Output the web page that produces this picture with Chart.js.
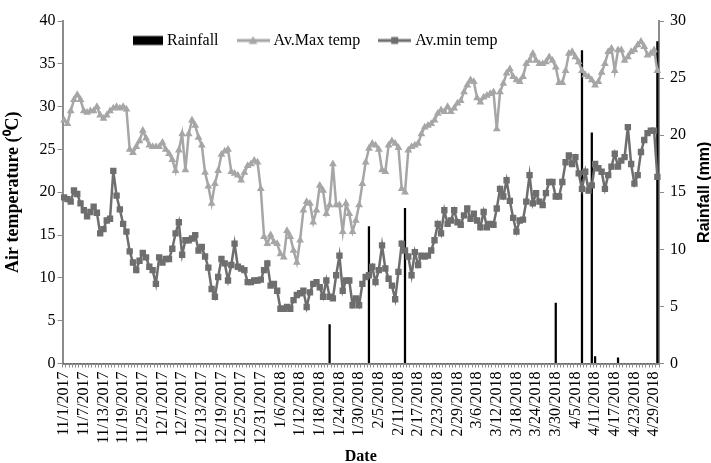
<!DOCTYPE html>
<html>
<head>
<meta charset="utf-8">
<script src="https://cdn.jsdelivr.net/npm/chart.js@4"></script>
<style>
  body { margin: 0; background: #fff; }
</style>
</head>
<body>
<canvas id="weatherChart" width="711" height="463"></canvas>
<script>
'use strict'

// Months on the record: [month, year, days] (the source sheet gives February 29 days)
var months = [[11, 2017, 30], [12, 2017, 31], [1, 2018, 31], [2, 2018, 29], [3, 2018, 31], [4, 2018, 30]];

// Daily average maximum temperature (C), one line per month
var maxTemp = [
  28.4, 28.0, 29.5, 30.8, 31.4, 30.8, 29.5, 29.3, 29.5, 29.5, 30.0, 29.0, 28.6, 29.0, 29.5, 29.8, 30.0, 29.8, 30.0, 29.7, 25.0, 24.6, 25.3, 26.0, 27.2, 26.3, 25.5, 25.3, 25.3, 25.3,
  25.8, 25.0, 24.5, 23.8, 22.5, 24.9, 26.8, 22.6, 26.8, 28.4, 27.8, 26.4, 25.5, 22.3, 20.7, 18.7, 21.0, 22.5, 24.4, 24.8, 25.0, 22.4, 22.2, 22.0, 21.4, 22.3, 23.1, 23.3, 23.7, 23.5, 20.4,
  14.8, 14.0, 15.0, 14.2, 14.0, 12.8, 12.4, 15.5, 14.8, 13.2, 11.8, 14.4, 17.9, 18.9, 18.7, 16.5, 17.9, 20.8, 20.2, 17.5, 18.5, 23.3, 18.5, 18.5, 15.4, 18.7, 17.5, 15.4, 16.7, 18.5, 21.0,
  23.5, 25.1, 25.7, 25.5, 25.0, 22.6, 22.4, 25.5, 26.0, 25.7, 25.2, 20.4, 20.0, 24.9, 25.3, 25.5, 25.7, 26.8, 27.6, 27.8, 28.0, 28.4, 29.2, 29.6, 29.4, 30.0, 29.4, 29.8, 30.4,
  30.7, 31.7, 32.5, 33.1, 32.9, 31.0, 30.5, 31.1, 31.3, 31.5, 31.7, 27.4, 31.7, 32.7, 33.9, 34.4, 33.5, 33.1, 32.9, 33.5, 35.0, 35.4, 36.2, 35.4, 35.0, 35.0, 35.2, 35.8, 35.4, 34.6, 32.8,
  32.8, 34.2, 36.2, 36.4, 35.8, 35.2, 34.2, 33.7, 33.5, 33.1, 32.5, 32.9, 34.0, 35.0, 36.4, 36.8, 34.2, 36.6, 36.6, 35.4, 35.8, 36.4, 36.6, 37.2, 37.6, 37.0, 36.0, 36.2, 36.6, 34.2
];

// Daily average minimum temperature (C)
var minTemp = [
  19.4, 19.2, 18.9, 20.2, 19.8, 18.7, 17.9, 17.2, 17.7, 18.3, 17.6, 15.2, 15.7, 16.7, 16.9, 22.5, 19.6, 18.0, 16.3, 15.4, 13.1, 11.8, 10.9, 12.0, 12.9, 12.4, 11.3, 10.9, 9.3, 12.4,
  11.8, 12.2, 12.2, 13.4, 15.2, 16.5, 12.7, 14.4, 14.4, 14.6, 15.0, 13.2, 13.6, 12.5, 11.2, 8.7, 7.8, 10.1, 12.2, 11.7, 9.7, 11.5, 14.0, 11.3, 11.1, 10.9, 9.5, 9.5, 9.7, 9.7, 9.8,
  10.9, 11.7, 9.1, 9.3, 8.5, 6.4, 6.4, 6.6, 6.4, 7.4, 8.0, 8.2, 8.5, 6.6, 8.3, 9.3, 9.5, 8.9, 7.8, 9.7, 7.8, 7.6, 10.3, 12.6, 8.5, 9.7, 9.7, 6.8, 7.6, 6.8, 9.3,
  10.1, 10.3, 11.3, 9.5, 10.9, 13.8, 11.1, 9.9, 9.1, 7.5, 10.7, 14.0, 13.2, 12.5, 10.3, 13.0, 11.5, 12.6, 12.5, 12.6, 13.2, 14.4, 16.3, 15.2, 17.9, 16.3, 16.7, 17.9, 16.5,
  16.2, 17.3, 18.1, 16.9, 17.5, 16.7, 15.9, 17.7, 15.9, 16.3, 16.2, 18.1, 20.4, 19.5, 21.4, 19.0, 17.0, 15.4, 16.7, 16.8, 18.9, 22.0, 18.7, 19.9, 18.9, 18.5, 19.9, 21.2, 21.2, 19.5, 19.5,
  21.2, 23.5, 24.3, 23.3, 24.1, 22.2, 20.4, 22.4, 20.2, 20.8, 23.3, 22.8, 22.4, 20.4, 22.0, 23.0, 24.5, 23.0, 23.7, 24.1, 27.6, 23.3, 21.0, 22.0, 24.7, 26.1, 26.9, 27.2, 27.2, 21.8
];

// Daily rainfall (mm)
var rainfall = [
  0, 0, 0, 0, 0, 0, 0, 0, 0, 0, 0, 0, 0, 0, 0, 0, 0, 0, 0, 0, 0, 0, 0, 0, 0, 0, 0, 0, 0, 0,
  0, 0, 0, 0, 0, 0, 0, 0, 0, 0, 0, 0, 0, 0, 0, 0, 0, 0, 0, 0, 0, 0, 0, 0, 0, 0, 0, 0, 0, 0, 0,
  0, 0, 0, 0, 0, 0, 0, 0, 0, 0, 0, 0, 0, 0, 0, 0, 0, 0, 0, 0, 3.4, 0, 0, 0, 0, 0, 0, 0, 0, 0, 0,
  0, 12.0, 0, 0, 0, 0, 0, 0, 0, 0, 0, 0, 13.6, 0, 0, 0, 0, 0, 0, 0, 0, 0, 0, 0, 0, 0, 0, 0, 0,
  0, 0, 0, 0, 0, 0, 0, 0, 0, 0, 0, 0, 0, 0, 0, 0, 0, 0, 0, 0, 0, 0, 0, 0, 0, 0, 0, 0, 0, 5.3, 0,
  0, 0, 0, 0, 0, 0, 27.4, 0, 0, 20.2, 0.6, 0, 0, 0, 0, 0, 0, 0.5, 0, 0, 0, 0, 0, 0, 0, 0, 0, 0, 0, 28.2
];

// Build the day labels from the month table
var dates = [];
months.forEach(function(m) {
  for (var d = 1; d <= m[2]; d++) {
    dates.push(m[0] + '/' + d + '/' + m[1]);
  }
});

var maxColor = '#a6a6a6';
var minColor = '#6e6e6e';
var axisColor = '#8c8c8c';
var serif = 'Liberation Serif';

// Small canvases used as legend symbols (bar box, line with marker)
function legendIcon(kind, color) {
  var c = document.createElement('canvas');
  c.width = kind === 'bar' ? 30 : 33;
  c.height = 12;
  var g = c.getContext('2d');
  g.fillStyle = color;
  g.strokeStyle = color;
  if (kind === 'bar') {
    g.fillRect(0, 1.5, 30, 9);
    return c;
  }
  g.lineWidth = 3;
  g.beginPath();
  g.moveTo(0, 6);
  g.lineTo(33, 6);
  g.stroke();
  if (kind === 'triangle') {
    g.beginPath();
    g.moveTo(16.5, 1.5);
    g.lineTo(20.8, 9.5);
    g.lineTo(12.2, 9.5);
    g.closePath();
    g.fill();
  } else {
    g.fillRect(13, 2.5, 7, 7);
  }
  return c;
}

var icons = [legendIcon('bar', '#000'), legendIcon('triangle', maxColor), legendIcon('rect', minColor)];

// Legend row inside the plot (as in the original) and right title read bottom-to-top
var chartTweaks = {
  id: 'chartTweaks',
  afterDraw: function(chart) {
    var ctx = chart.ctx;
    ctx.save();
    ctx.font = '16px "' + serif + '"';
    ctx.fillStyle = '#000';
    ctx.textBaseline = 'middle';
    var x = 133;
    chart.data.datasets.forEach(function(ds, i) {
      ctx.drawImage(icons[i], x, 34.5);
      x += icons[i].width + 4;
      ctx.fillText(ds.label, x, 41);
      x += ctx.measureText(ds.label).width + 18;
    });

    var s = chart.scales.y1;
    ctx.translate(s.right - 6, (s.top + s.bottom) / 2);
    ctx.rotate(-Math.PI / 2);
    ctx.font = 'bold 16px "Liberation Sans"';
    ctx.textAlign = 'center';
    ctx.fillText('Rainfall (mm)', 0, 0);
    ctx.restore();
  }
};

var chart = new Chart(document.getElementById('weatherChart'), {
  type: 'bar',
  data: {
    labels: dates,
    datasets: [{
      type: 'bar',
      label: 'Rainfall',
      data: rainfall,
      yAxisID: 'y1',
      backgroundColor: '#000',
      barThickness: 1.6,
      order: 3
    },
    {
      type: 'line',
      label: 'Av.Max temp',
      data: maxTemp,
      yAxisID: 'y',
      borderColor: maxColor,
      backgroundColor: maxColor,
      borderWidth: 2.5,
      tension: 0,
      pointStyle: 'triangle',
      pointRadius: 4.5,
      pointBorderWidth: 0,
      order: 2
    },
    {
      type: 'line',
      label: 'Av.min temp',
      data: minTemp,
      yAxisID: 'y',
      borderColor: minColor,
      backgroundColor: minColor,
      borderWidth: 2.5,
      tension: 0,
      pointStyle: 'rect',
      pointRadius: 4.5,
      pointBorderWidth: 0,
      order: 1
    }]
  },
  plugins: [chartTweaks],
  options: {
    responsive: false,
    animation: false,
    layout: { padding: { top: 21, left: 0, right: 0, bottom: 0 } },
    plugins: {
      tooltip: { enabled: false },
      legend: { display: false }
    },
    scales: {
      x: {
        offset: true,
        grid: { drawOnChartArea: false, tickLength: 4, color: axisColor, offset: true },
        border: { display: true, color: axisColor, width: 2 },
        ticks: {
          autoSkip: false,
          minRotation: 90,
          maxRotation: 90,
          padding: 4,
          color: '#000',
          font: { family: serif, size: 16 },
          callback: function(value, index) {
            return index % 6 === 0 ? this.getLabelForValue(value) : '';
          }
        },
        title: {
          display: true,
          text: 'Date',
          color: '#000',
          font: { family: serif, size: 16, weight: 'bold', lineHeight: 0.8 },
          padding: { top: 0, bottom: 0 }
        },
        afterFit: function(scale) { scale.height = 99.5; }
      },
      y: {
        position: 'left',
        min: 0,
        max: 40,
        grid: { drawOnChartArea: false, tickLength: 5, color: axisColor },
        border: { display: true, color: axisColor, width: 2 },
        ticks: { stepSize: 5, padding: 2, color: '#000', font: { family: serif, size: 16 } },
        title: {
          display: true,
          text: 'Air temperature (\u2070C)',
          color: '#000',
          font: { family: serif, size: 18, weight: 'bold' },
          padding: { top: 3, bottom: 3 }
        },
        afterFit: function(scale) { scale.width = 62.5; }
      },
      y1: {
        position: 'right',
        min: 0,
        max: 30,
        grid: { drawOnChartArea: false, tickLength: 5, color: axisColor },
        border: { display: true, color: axisColor, width: 2 },
        ticks: { stepSize: 5, padding: 6, color: '#000', font: { family: serif, size: 16 } },
        afterFit: function(scale) { scale.width = 52; }
      }
    }
  }
});
</script>
</body>
</html>
